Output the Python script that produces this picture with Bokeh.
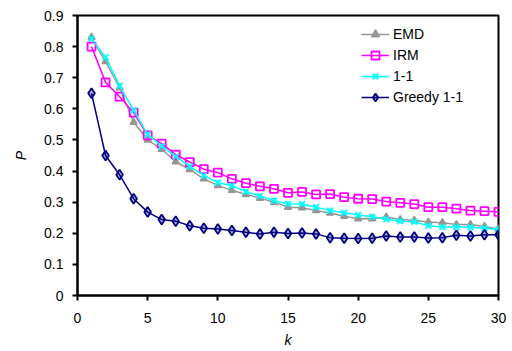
from bokeh.plotting import figure
from bokeh.models import FixedTicker, Legend, LegendItem, Range1d
from bokeh.embed import file_html
from bokeh.resources import INLINE

k = list(range(1, 31))
emd = [0.830, 0.752, 0.668, 0.557, 0.500, 0.470, 0.430, 0.405, 0.375, 0.354,
       0.338, 0.325, 0.313, 0.300, 0.284, 0.282, 0.273, 0.265, 0.255, 0.247,
       0.247, 0.252, 0.244, 0.241, 0.236, 0.234, 0.228, 0.228, 0.222, 0.214]
irm = [0.800, 0.685, 0.639, 0.588, 0.515, 0.488, 0.453, 0.429, 0.406, 0.395,
       0.375, 0.361, 0.351, 0.343, 0.330, 0.333, 0.325, 0.326, 0.316, 0.311,
       0.310, 0.302, 0.298, 0.294, 0.284, 0.284, 0.279, 0.273, 0.271, 0.269]
one_one = [0.825, 0.766, 0.674, 0.595, 0.518, 0.480, 0.447, 0.415, 0.386, 0.363,
           0.353, 0.334, 0.320, 0.305, 0.295, 0.294, 0.284, 0.273, 0.266, 0.259,
           0.253, 0.245, 0.239, 0.237, 0.224, 0.220, 0.220, 0.219, 0.216, 0.213]
greedy = [0.650, 0.450, 0.388, 0.311, 0.268, 0.244, 0.239, 0.224, 0.216, 0.214,
          0.209, 0.203, 0.198, 0.203, 0.199, 0.201, 0.198, 0.186, 0.184, 0.183,
          0.184, 0.191, 0.188, 0.188, 0.185, 0.186, 0.194, 0.191, 0.195, 0.195]

x_ticks = [0, 5, 10, 15, 20, 25, 30]
y_ticks = [0, 0.1, 0.2, 0.3, 0.4, 0.5, 0.6, 0.7, 0.8, 0.9]

FONT = "Liberation Sans"

p = figure(width=512, height=351, output_backend="svg", toolbar_location=None,
           x_range=Range1d(0, 30), y_range=Range1d(0, 0.9))
p.min_border_left = 77
p.min_border_right = 14
p.min_border_top = 15
p.min_border_bottom = 56
p.outline_line_color = "black"
p.outline_line_width = 2
p.xgrid.visible = False
p.ygrid.visible = False
p.background_fill_color = "white"
p.border_fill_color = "white"

for ax in (p.xaxis[0], p.yaxis[0]):
    ax.axis_line_width = 2
    ax.axis_line_color = "black"
    ax.major_tick_line_width = 2
    ax.major_tick_line_color = "black"
    ax.major_tick_out = 5
    ax.major_tick_in = 0
    ax.minor_tick_line_color = None
    ax.major_label_text_font = FONT
    ax.major_label_text_font_size = "14px"
    ax.major_label_text_color = "black"
    ax.axis_label_text_font = FONT
    ax.axis_label_text_font_size = "14px"
    ax.axis_label_text_font_style = "italic"
    ax.axis_label_text_color = "black"

p.xaxis.ticker = FixedTicker(ticks=x_ticks)
p.yaxis.ticker = FixedTicker(ticks=y_ticks)
p.yaxis.major_label_overrides = {0: "0"}
p.xaxis.axis_label = "k"
p.yaxis.axis_label = "P"
p.xaxis.major_label_standoff = 12
p.yaxis.major_label_standoff = 9
p.xaxis.axis_label_standoff = 6
p.yaxis.axis_label_standoff = 12

r_emd = [p.line(k, emd, line_color="#969696", line_width=1.5),
         p.scatter(k, emd, marker="triangle", size=7, line_color="#969696",
                   fill_color="#969696", line_width=1.5)]
r_irm = [p.line(k, irm, line_color="#FF00FF", line_width=1.5),
         p.scatter(k, irm, marker="square", size=8, line_color="#FF00FF",
                   fill_color="white", fill_alpha=0, line_width=1.8)]
r_11 = [p.line(k, one_one, line_color="#00FFFF", line_width=1.5),
        p.scatter(k, one_one, marker="x", size=8, line_color="#00FFFF",
                  line_width=2)]
r_gr = [p.line(k, greedy, line_color="#000080", line_width=1.5),
        p.scatter(k, greedy, marker="diamond", size=10, line_color="#000080",
                  fill_color="#000080", fill_alpha=0.3, line_width=1.8)]

legend = Legend(items=[LegendItem(label="EMD", renderers=r_emd),
                       LegendItem(label="IRM", renderers=r_irm),
                       LegendItem(label="1-1", renderers=r_11),
                       LegendItem(label="Greedy 1-1", renderers=r_gr)],
                location=(284, 188))
legend.border_line_color = None
legend.background_fill_alpha = 0
legend.padding = 0
legend.margin = 0
legend.spacing = 1
legend.glyph_width = 28
legend.glyph_height = 20
legend.label_height = 20
legend.label_standoff = 4
legend.label_text_font = FONT
legend.label_text_font_size = "14px"
legend.label_text_color = "black"
p.add_layout(legend)

open("out.html", "w").write(file_html(p, INLINE))
